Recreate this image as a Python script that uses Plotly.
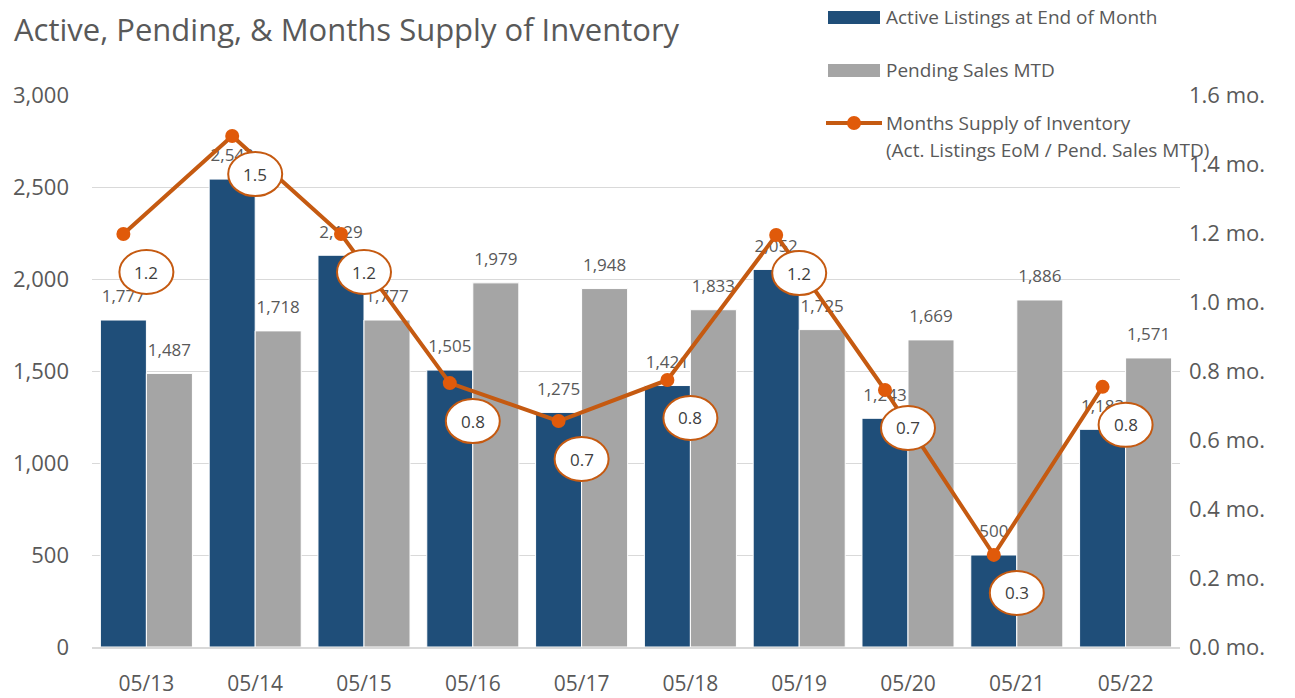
import plotly.graph_objects as go

months = ["05/13", "05/14", "05/15", "05/16", "05/17", "05/18", "05/19", "05/20", "05/21", "05/22"]
active = [1777, 2543, 2129, 1505, 1275, 1421, 2052, 1243, 500, 1183]
pending = [1487, 1718, 1777, 1979, 1948, 1833, 1725, 1669, 1886, 1571]
supply = [1.197, 1.481, 1.197, 0.765, 0.655, 0.774, 1.194, 0.745, 0.267, 0.754]

BLUE = "#1F4E79"
GRAY = "#A5A5A5"
ORANGE = "#C55A11"
MARK = "#E05A0A"
TXT = "#595959"
FONT = "Open Sans"

W, H = 1295, 698
L, R, T, B = 92, 115, 95, 51
PW, PH = W - L - R, H - T - B


def px(x):
    return (x - L) / PW


def py(y):
    return (H - B - y) / PH


x = list(range(len(months)))
fig = go.Figure()
fig.add_trace(go.Bar(x=x, y=active, name="Active Listings at End of Month", marker=dict(color=BLUE, line=dict(color="white", width=1)),
                     offsetgroup="a", hoverinfo="skip"))
fig.add_trace(go.Bar(x=x, y=pending, name="Pending Sales MTD", marker=dict(color=GRAY, line=dict(color="white", width=1)),
                     offsetgroup="b", hoverinfo="skip"))
# bar value labels (in trace layer, beneath the supply line and bubbles)
for vals, g in ((active, "a"), (pending, "b")):
    fig.add_trace(go.Scatter(x=x, y=vals, mode="markers+text", offsetgroup=g, orientation="v",
                             marker=dict(size=20, opacity=0), texttemplate="%{y:,.0f}", textposition="top center",
                             textfont=dict(family=FONT, size=17, color=TXT), hoverinfo="skip", showlegend=False))
fig.add_trace(go.Scatter(x=x, y=supply, yaxis="y2", mode="lines+markers", name="Months Supply of Inventory",
                         line=dict(color=ORANGE, width=4), marker=dict(color=MARK, size=14), hoverinfo="skip"))

shapes = []
annotations = []
for i, v in enumerate(supply):
    shapes.append(dict(type="circle", xref="x", yref="y2", xsizemode="pixel", ysizemode="pixel",
                       xanchor=i, yanchor=v, x0=-27, x1=27, y0=-38 - 22, y1=-38 + 22,
                       fillcolor="white", line=dict(color=ORANGE, width=2), layer="above"))
    annotations.append(dict(x=i, y=v, xref="x", yref="y2", yshift=-38, showarrow=False,
                            text=f"{v:.1f}", font=dict(family=FONT, size=17, color="#404040")))

# title
annotations.append(dict(xref="paper", yref="paper", x=px(12), y=py(29), xanchor="left", yanchor="middle",
                        showarrow=False, text="Active, Pending, & Months Supply of Inventory",
                        font=dict(family=FONT, size=31, color=TXT)))
# custom legend
shapes.append(dict(type="rect", xref="paper", yref="paper", x0=px(828), x1=px(880), y0=py(24), y1=py(11),
                   fillcolor=BLUE, line=dict(width=0)))
shapes.append(dict(type="rect", xref="paper", yref="paper", x0=px(828), x1=px(880), y0=py(77), y1=py(64),
                   fillcolor=GRAY, line=dict(width=0)))
shapes.append(dict(type="line", xref="paper", yref="paper", x0=px(826), x1=px(882), y0=py(123), y1=py(123),
                   line=dict(color=ORANGE, width=4)))
shapes.append(dict(type="circle", xref="paper", yref="paper", x0=px(847), x1=px(861), y0=py(130), y1=py(116),
                   fillcolor=MARK, line=dict(width=0)))
for txt, yy in (("Active Listings at End of Month", 17), ("Pending Sales MTD", 70),
                ("Months Supply of Inventory", 123), ("(Act. Listings EoM / Pend. Sales MTD)", 150)):
    annotations.append(dict(xref="paper", yref="paper", x=px(884), y=py(yy), xanchor="left", yanchor="middle",
                            showarrow=False, text=txt, font=dict(family=FONT, size=19, color=TXT)))

fig.update_layout(
    width=W, height=H, autosize=False,
    margin=dict(l=L, r=R, t=T, b=B, autoexpand=False),
    paper_bgcolor="white", plot_bgcolor="white",
    barmode="group", bargap=0.154, bargroupgap=0,
    scattermode="group", scattergap=0.154,
    showlegend=False,
    font=dict(family=FONT, color=TXT),
    xaxis=dict(tickmode="array", tickvals=x, ticktext=months, range=[-0.5, len(months) - 0.5],
               showline=True, linecolor="#D9D9D9", linewidth=1.5, showgrid=False, ticks="", automargin=False,
               tickfont=dict(family=FONT, size=21, color=TXT), ticklabelstandoff=17),
    yaxis=dict(range=[0, 3000], dtick=500, tickformat=",", showgrid=True, gridcolor="#D9D9D9", gridwidth=1,
               zeroline=False, automargin=False, tickfont=dict(family=FONT, size=22, color=TXT), ticklabelstandoff=22),
    yaxis2=dict(range=[0, 1.6], dtick=0.2, tickformat=".1f", ticksuffix=" mo.", overlaying="y", side="right",
                showgrid=False, zeroline=False, automargin=False,
                tickfont=dict(family=FONT, size=22, color=TXT), ticklabelstandoff=8),
    shapes=shapes, annotations=annotations,
)

fig.write_html("out.html")
